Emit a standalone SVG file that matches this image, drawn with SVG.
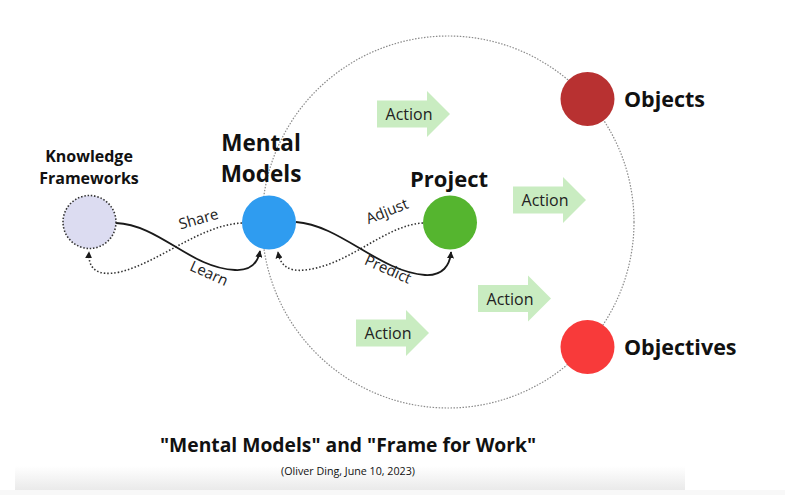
<svg xmlns="http://www.w3.org/2000/svg" width="785" height="495" viewBox="0 0 785 495">
<defs>
<style>
text{font-family:"Open Sans","Noto Sans","Liberation Sans",sans-serif;fill:#111;}
.lbl{font-size:15px;fill:#222;}
.act{font-size:16px;fill:#222;text-anchor:middle;}
.bold{font-weight:bold;}
.solid{fill:none;stroke:#1a1a1a;stroke-width:1.8;}
.dot{fill:none;stroke:#333;stroke-width:1.6;stroke-dasharray:1.5 2;}
.arrowfill{fill:#c9ecc1;}
</style>
<marker id="ah" viewBox="0 0 10 10" refX="9" refY="5" markerWidth="7" markerHeight="7" markerUnits="userSpaceOnUse" orient="auto">
<path d="M0,0 L10,5 L0,10 Z" fill="#1a1a1a"/>
</marker>
<path id="blk" d="M0,-13.5 H50 V-23 L73,0 L50,23 V13.5 H0 Z"/>
<linearGradient id="band" x1="0" y1="0" x2="0" y2="1">
<stop offset="0" stop-color="#ffffff"/>
<stop offset="1" stop-color="#eaeaea"/>
</linearGradient>
</defs>
<rect width="785" height="495" fill="#ffffff"/>
<rect x="15" y="466" width="670" height="24" fill="url(#band)"/>
<rect x="0" y="490" width="785" height="5" fill="#f8f8f8"/>

<g id="frame-circle">
<circle cx="448" cy="222" r="186" fill="none" stroke="#8a8a8a" stroke-width="1.2" stroke-dasharray="1.5 1.5"/>
</g>

<g id="actions">
<g id="action1"><use href="#blk" class="arrowfill" x="377" y="114"/><text class="act" x="409" y="120">Action</text></g>
<g id="action2"><use href="#blk" class="arrowfill" x="513" y="200"/><text class="act" x="545" y="206">Action</text></g>
<g id="action3"><use href="#blk" class="arrowfill" x="478" y="298.5"/><text class="act" x="510" y="304.5">Action</text></g>
<g id="action4"><use href="#blk" class="arrowfill" x="356" y="333"/><text class="act" x="388" y="339">Action</text></g>
</g>

<g id="connectors">
<path class="dot" d="M242,223 C200,225 160,262 120,272 C96,277 88,268 89,252" marker-end="url(#ah)"/>
<path class="solid" d="M116,223 C160,225 190,268 235,270 C252,271 258,262 260,251" marker-end="url(#ah)"/>
<path class="dot" d="M423,223 C385,225 350,265 305,270 C288,272 280,265 278,252" marker-end="url(#ah)"/>
<path class="solid" d="M296,222 C340,225 380,272 425,275 C443,276 450,265 451,252" marker-end="url(#ah)"/>
<text class="lbl" transform="translate(200,224) rotate(-16)" text-anchor="middle">Share</text>
<text class="lbl" transform="translate(207,278) rotate(24)" text-anchor="middle">Learn</text>
<text class="lbl" transform="translate(389,216) rotate(-22)" text-anchor="middle">Adjust</text>
<text class="lbl" transform="translate(386,274) rotate(24)" text-anchor="middle">Predict</text>
</g>

<g id="knowledge-frameworks">
<circle cx="89.5" cy="222" r="26.5" fill="#dcdcf1" stroke="#333" stroke-width="1.6" stroke-dasharray="1.5 1.8"/>
<text class="bold" x="89" y="162" font-size="16" text-anchor="middle">Knowledge</text>
<text class="bold" x="89" y="184" font-size="16" text-anchor="middle">Frameworks</text>
</g>

<g id="mental-models">
<circle cx="269" cy="222.5" r="27" fill="#2f9cf0"/>
<text class="bold" x="261" y="151" font-size="22.5" text-anchor="middle">Mental</text>
<text class="bold" x="261" y="182" font-size="22.5" text-anchor="middle">Models</text>
</g>

<g id="project">
<circle cx="450" cy="222.5" r="27" fill="#55b52f"/>
<text class="bold" x="449" y="187" font-size="22" text-anchor="middle">Project</text>
</g>

<g id="objects">
<circle cx="587.5" cy="99" r="27" fill="#b83131"/>
<text class="bold" x="624" y="107" font-size="21.5">Objects</text>
</g>

<g id="objectives">
<circle cx="587.5" cy="347" r="27" fill="#f83a3a"/>
<text class="bold" x="624" y="355" font-size="21.5">Objectives</text>
</g>

<g id="title">
<text class="bold" x="348" y="452" font-size="19.3" text-anchor="middle">"Mental Models" and "Frame for Work"</text>
<text x="348" y="475" font-size="10.7" text-anchor="middle" fill="#333">(Oliver Ding, June 10, 2023)</text>
</g>
</svg>
